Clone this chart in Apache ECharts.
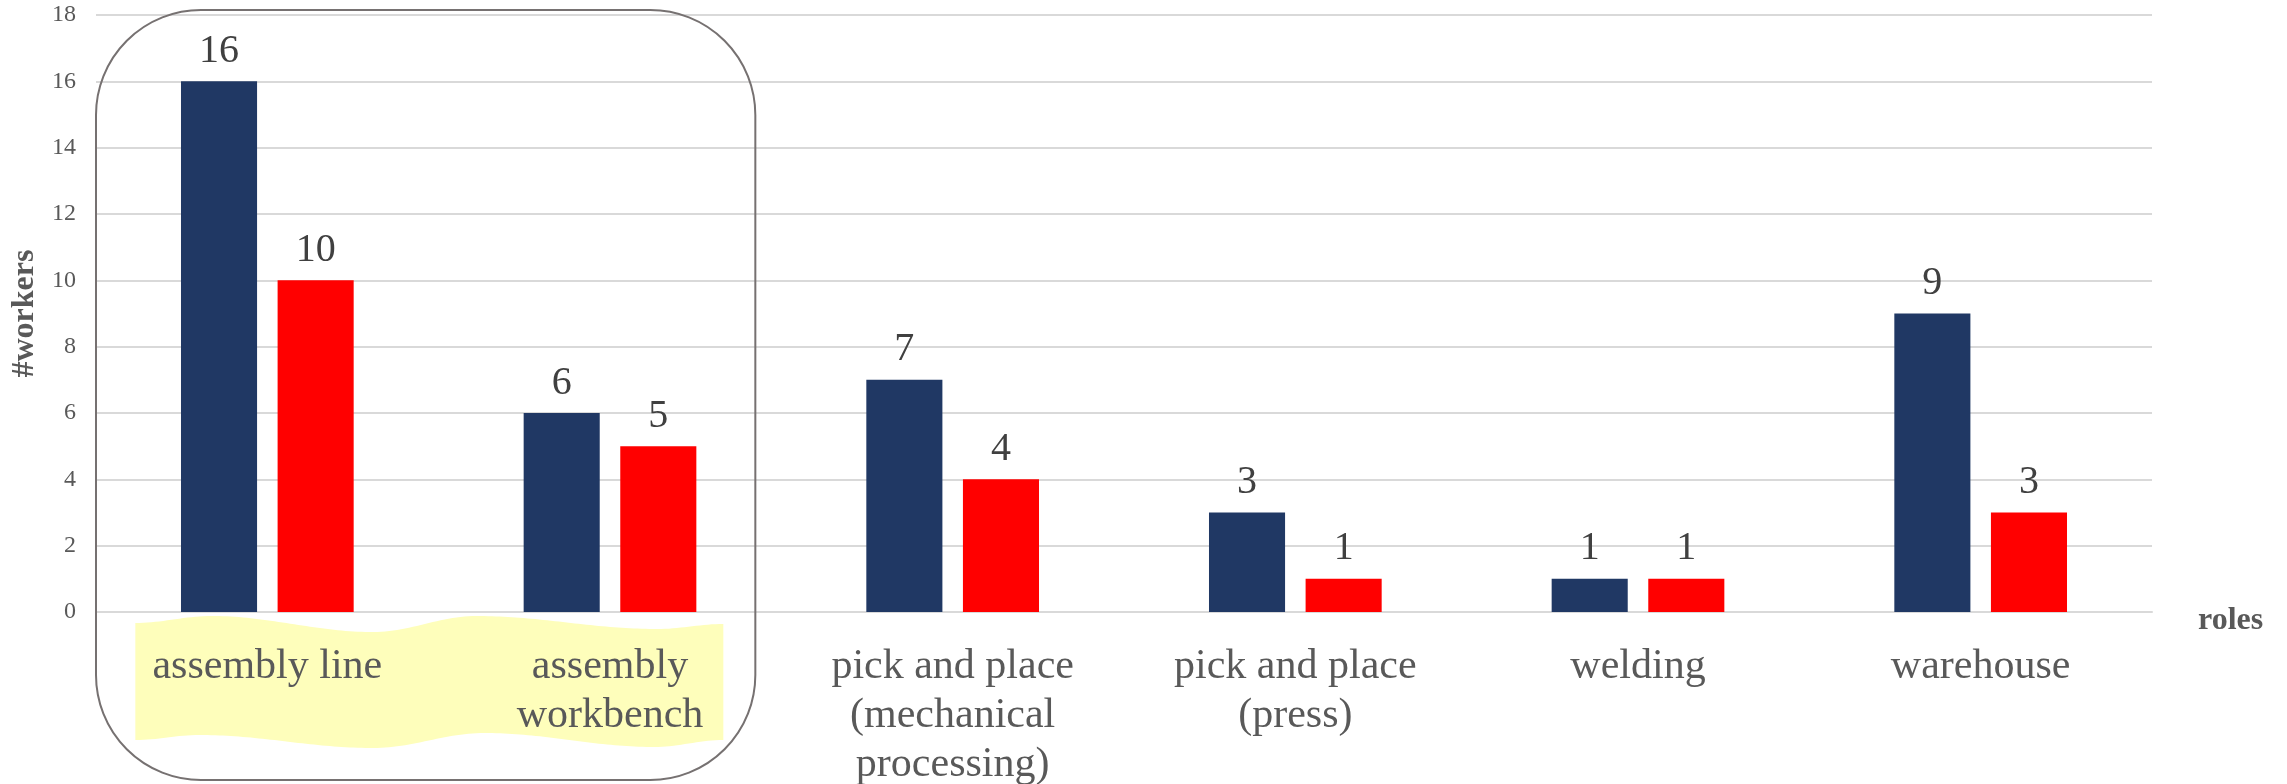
<!DOCTYPE html>
<html>
<head>
<meta charset="utf-8">
<script src="https://cdn.jsdelivr.net/npm/echarts@6/dist/echarts.min.js"></script>
<style>
  html, body { margin: 0; padding: 0; background: #ffffff; }
  #chart { width: 2287px; height: 784px; }
</style>
</head>
<body>
<div id="chart"></div>
<script>
// Roles on the category axis (line breaks are part of the label)
const roles = [
  'assembly line',
  'assembly\nworkbench',
  'pick and place\n(mechanical\nprocessing)',
  'pick and place\n(press)',
  'welding',
  'warehouse'
];
// Worker counts per role
const workersNavy = [16, 6, 7, 3, 1, 9];
const workersRed = [10, 5, 4, 1, 1, 3];
// Value axis settings
const yMin = 0;
const yMax = 18;
const yStep = 2;

const FONT = '"Liberation Serif", "Times New Roman", serif';
const chart = echarts.init(document.getElementById('chart'), null, { renderer: 'canvas' });

const labelStyle = {
  show: true,
  position: 'top',
  distance: 10,
  fontFamily: FONT,
  fontSize: 40,
  color: '#404040'
};

chart.setOption({
  animation: false,
  backgroundColor: '#ffffff',
  textStyle: { fontFamily: FONT },
  grid: {
    left: 96, right: 135, top: 15, bottom: 172,
    containLabel: false,
    outerBoundsMode: 'none'
  },
  xAxis: {
    type: 'category',
    data: roles,
    name: 'roles',
    nameLocation: 'end',
    nameGap: 46,
    nameTextStyle: {
      fontFamily: FONT, fontSize: 32, fontWeight: 'bold', color: '#595959',
      verticalAlign: 'top', lineHeight: 18
    },
    axisLine: { show: true, lineStyle: { color: '#D9D9D9', width: 2 } },
    axisTick: { show: false },
    axisLabel: {
      interval: 0,
      margin: 30,
      fontFamily: FONT,
      fontSize: 42,
      lineHeight: 49,
      color: '#595959'
    }
  },
  yAxis: {
    type: 'value',
    min: yMin,
    max: yMax,
    interval: yStep,
    name: '#workers',
    nameLocation: 'middle',
    nameGap: 45,
    nameRotate: 90,
    nameTextStyle: { fontFamily: FONT, fontSize: 32, fontWeight: 'bold', color: '#595959' },
    axisLine: { show: false },
    axisTick: { show: false },
    axisLabel: { margin: 20, fontFamily: FONT, fontSize: 24, color: '#595959' },
    splitLine: { show: true, lineStyle: { color: '#D9D9D9', width: 2 } }
  },
  series: [
    {
      name: 'seriesA',
      type: 'bar',
      data: workersNavy,
      barWidth: '22.2%',
      barGap: '27%',
      itemStyle: { color: '#203864' },
      label: labelStyle
    },
    {
      name: 'seriesB',
      type: 'bar',
      data: workersRed,
      barWidth: '22.2%',
      barGap: '27%',
      itemStyle: { color: '#FF0000' },
      label: labelStyle
    }
  ]
});

// Smooth wave through turning points (cosine easing between neighbours)
function wave(points, step) {
  const out = [];
  for (let i = 0; i < points.length - 1; i++) {
    const [xa, ya] = points[i];
    const [xb, yb] = points[i + 1];
    const n = Math.max(2, Math.ceil(Math.abs(xb - xa) / step));
    for (let k = 0; k < n; k++) {
      const f = k / n;
      const e = (1 - Math.cos(Math.PI * f)) / 2;
      out.push([xa + (xb - xa) * f, ya + (yb - ya) * e]);
    }
  }
  out.push(points[points.length - 1].slice());
  return out;
}

// Highlight the first two roles: a wavy yellow band behind their labels
// and a rounded frame around both groups.
function drawHighlight() {
  const c0 = chart.convertToPixel({ xAxisIndex: 0 }, 0);
  const c1 = chart.convertToPixel({ xAxisIndex: 0 }, 1);
  const band = c1 - c0;
  const y0 = chart.convertToPixel({ yAxisIndex: 0 }, 0);
  const yTop = chart.convertToPixel({ yAxisIndex: 0 }, yMax);

  const frameLeft = c0 - band / 2;
  const frameRight = c1 + band / 2 - 26;
  const frameTop = yTop - 5;
  const frameBottom = 780;

  // turning points of the band edges: [x offset from first centre, y offset below axis]
  const topEdge = [[-132, 11], [-56, 4], [106, 20], [209, 4], [390, 17], [456, 12]];
  const bottomEdge = [[-132, 128], [-68, 123], [106, 136], [217, 121], [387, 135], [456, 128]];
  const toPx = p => [c0 + p[0], y0 + p[1]];
  const top = wave(topEdge.map(toPx), 4);
  const bottom = wave(bottomEdge.map(toPx), 4).reverse();

  chart.setOption({
    graphic: [
      {
        type: 'polygon',
        z: -10,
        silent: true,
        shape: { points: top.concat(bottom) },
        style: { fill: '#FEFEBB', stroke: null }
      },
      {
        type: 'rect',
        z: 100,
        silent: true,
        shape: {
          x: frameLeft,
          y: frameTop,
          width: frameRight - frameLeft,
          height: frameBottom - frameTop,
          r: 105
        },
        style: { fill: null, stroke: '#767171', lineWidth: 2 }
      }
    ]
  });
}
drawHighlight();
</script>
</body>
</html>
